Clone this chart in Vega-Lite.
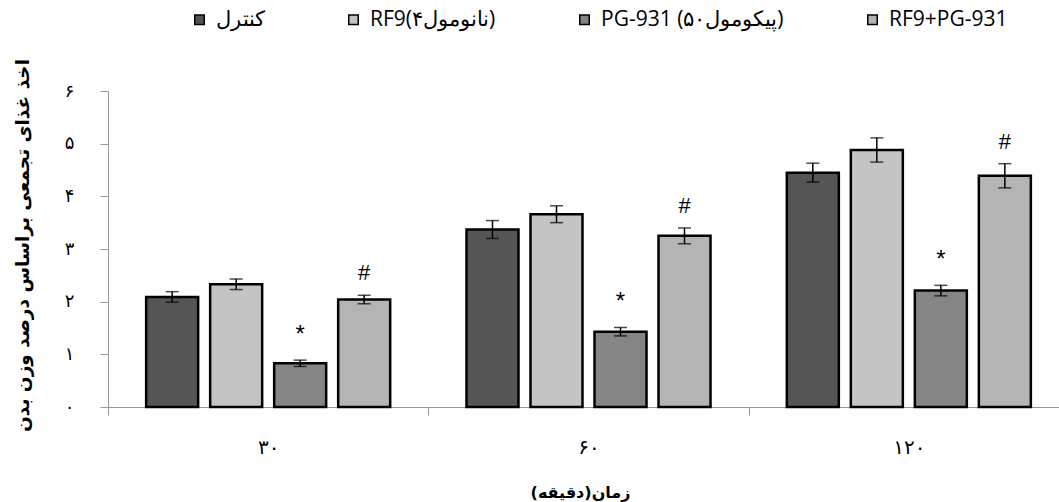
{
  "$schema": "https://vega.github.io/schema/vega-lite/v6.json",
  "width": 951,
  "height": 316,
  "autosize": {"type": "none"},
  "padding": {"left": 108, "top": 91, "right": 0, "bottom": 95},
  "background": "white",
  "config": {
    "view": {"stroke": null},
    "font": "Open Sans",
    "axis": {"domainColor": "#999999", "tickColor": "#999999", "grid": false, "labelColor": "black", "titleColor": "black"}
  },
  "data": {
    "values": [
      {"time": "۳۰", "group": "کنترل", "mean": 2.09, "lo": 1.99, "hi": 2.19, "sig": ""},
      {"time": "۳۰", "group": "RF9(۴نانومول)", "mean": 2.33, "lo": 2.23, "hi": 2.43, "sig": ""},
      {"time": "۳۰", "group": "PG-931 (۵۰پیکومول)", "mean": 0.83, "lo": 0.77, "hi": 0.89, "sig": "*"},
      {"time": "۳۰", "group": "RF9+PG-931", "mean": 2.04, "lo": 1.96, "hi": 2.12, "sig": "#"},
      {"time": "۶۰", "group": "کنترل", "mean": 3.37, "lo": 3.2, "hi": 3.54, "sig": ""},
      {"time": "۶۰", "group": "RF9(۴نانومول)", "mean": 3.66, "lo": 3.5, "hi": 3.82, "sig": ""},
      {"time": "۶۰", "group": "PG-931 (۵۰پیکومول)", "mean": 1.43, "lo": 1.35, "hi": 1.51, "sig": "*"},
      {"time": "۶۰", "group": "RF9+PG-931", "mean": 3.25, "lo": 3.1, "hi": 3.4, "sig": "#"},
      {"time": "۱۲۰", "group": "کنترل", "mean": 4.45, "lo": 4.27, "hi": 4.63, "sig": ""},
      {"time": "۱۲۰", "group": "RF9(۴نانومول)", "mean": 4.88, "lo": 4.65, "hi": 5.11, "sig": ""},
      {"time": "۱۲۰", "group": "PG-931 (۵۰پیکومول)", "mean": 2.21, "lo": 2.11, "hi": 2.31, "sig": "*"},
      {"time": "۱۲۰", "group": "RF9+PG-931", "mean": 4.39, "lo": 4.16, "hi": 4.62, "sig": "#"}
    ]
  },
  "encoding": {
    "x": {
      "field": "time", "type": "nominal", "sort": null,
      "scale": {"range": [0, 961], "paddingInner": 0, "paddingOuter": 0},
      "axis": {
        "title": "زمان(دقیقه)", "labelAngle": 0, "tickBand": "extent", "tickSize": 8,
        "labelPadding": 22, "labelFontSize": 20, "labelFont": "DejaVu Sans",
        "titleFont": "DejaVu Sans", "titleFontSize": 16, "titleFontWeight": "bold",
        "titleX": 472, "titleY": 85, "titleBaseline": "middle", "titleAnchor": null
      }
    },
    "xOffset": {
      "field": "group", "type": "nominal", "sort": null,
      "scale": {"paddingInner": 0.1875, "paddingOuter": 0.596}
    }
  },
  "layer": [
    {
      "mark": {"type": "bar", "stroke": "black", "strokeWidth": 2.5},
      "encoding": {
        "y": {
          "field": "mean", "type": "quantitative",
          "scale": {"domain": [0, 6], "nice": false},
          "axis": {
            "values": [0, 1, 2, 3, 4, 5, 6], "tickSize": 8, "labelPadding": 26,
            "labelExpr": "['۰','۱','۲','۳','۴','۵','۶'][datum.value]",
            "labelFontSize": 18, "labelFont": "DejaVu Sans",
            "title": "اخذ غذای تجمعی براساس درصد وزن بدن",
            "titleFont": "DejaVu Sans", "titleFontSize": 18.5, "titleFontWeight": "bold",
            "titleX": -86, "titleY": 154, "titleBaseline": "middle", "titleAngle": -90
          }
        },
        "fill": {
          "field": "group", "type": "nominal", "sort": null,
          "scale": {
            "domain": ["کنترل", "RF9(۴نانومول)", "PG-931 (۵۰پیکومول)", "RF9+PG-931"],
            "range": ["#555555", "#c4c4c4", "#858585", "#b4b4b4"]
          },
          "legend": {
            "title": null, "orient": "none", "direction": "horizontal", "columns": 4,
            "legendX": 81, "legendY": -82, "symbolType": "square", "symbolSize": 90,
            "symbolStrokeColor": "black", "symbolStrokeWidth": 1.5, "labelLimit": 400,
            "labelFontSize": 21, "labelFont": "Open Sans", "columnPadding": 78, "labelOffset": 6
          }
        }
      }
    },
    {
      "mark": {"type": "rule", "color": "black", "strokeWidth": 1.5},
      "encoding": {
        "y": {"field": "lo", "type": "quantitative"},
        "y2": {"field": "hi"}
      }
    },
    {
      "mark": {"type": "tick", "color": "black", "orient": "horizontal", "size": 13, "thickness": 1.5},
      "encoding": {"y": {"field": "lo", "type": "quantitative"}}
    },
    {
      "mark": {"type": "tick", "color": "black", "orient": "horizontal", "size": 13, "thickness": 1.5},
      "encoding": {"y": {"field": "hi", "type": "quantitative"}}
    },
    {
      "transform": [{"filter": "datum.sig == '*'"}],
      "mark": {"type": "text", "fontSize": 24, "font": "Liberation Sans", "baseline": "alphabetic", "dy": -18},
      "encoding": {"y": {"field": "hi", "type": "quantitative"}, "text": {"field": "sig"}}
    },
    {
      "transform": [{"filter": "datum.sig == '#'"}],
      "mark": {"type": "text", "fontSize": 22, "font": "Liberation Sans", "baseline": "alphabetic", "dy": -15},
      "encoding": {"y": {"field": "hi", "type": "quantitative"}, "text": {"field": "sig"}}
    }
  ]
}
